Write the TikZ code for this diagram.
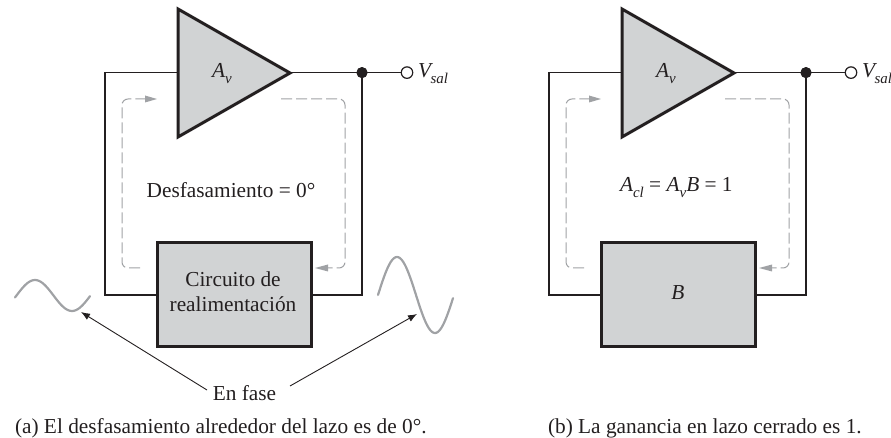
\documentclass[tikz,border=0pt]{standalone}
\usepackage{fontspec}
\setmainfont{Liberation Serif}
\usetikzlibrary{arrows.meta}
\definecolor{ink}{HTML}{231F20}
\definecolor{fillgray}{HTML}{D1D3D4}
\definecolor{dashgray}{HTML}{A0A2A5}
\newcommand\lowsub[1]{\raisebox{-0.28em}{\fontsize{15}{16}\selectfont\itshape #1}}
\tikzset{
  x=1bp,y=-1bp,
  wire/.style={draw=ink,line width=1.3bp},
  block/.style={draw=ink,fill=fillgray,line width=3bp,line join=miter},
  loopdash/.style={draw=dashgray,line width=1bp,dash pattern=on 11bp off 4bp,rounded corners=6bp},
  looptip/.style={draw=none,fill=dashgray},
  solder/.style={circle,fill=ink,draw=none,inner sep=0pt,minimum size=11bp},
  terminal/.style={circle,fill=white,draw=ink,line width=1.2bp,inner sep=0pt,minimum size=11.5bp},
  label/.style={inner sep=0pt,outer sep=0pt,text=ink,font=\fontsize{21.4}{23}\selectfont,anchor=base},
  wave/.style={draw=dashgray,line width=2.2bp,line cap=round,smooth},
  pointer/.style={draw=ink,line width=0.9bp,-{Latex[length=9bp,width=7bp]}},
}
\begin{document}
\begin{tikzpicture}
\useasboundingbox (0,0) rectangle (891,438);
\clip (0,0) rectangle (891,438);
\foreach \dx/\pn in {0/a,444/b}{
\begin{scope}[xshift=\dx bp]
  \coordinate (\pn ampin) at (178,72.6);
  \coordinate (\pn ampout) at (290,72.6);
  \coordinate (\pn cl) at (105,72.6);
  \coordinate (\pn bl) at (105,295);
  \coordinate (\pn br) at (362,295);
  \node[solder] (\pn dot) at (362,72.6) {};
  \node[terminal] (\pn term) at (407,72.6) {};
  \node[draw=none,inner sep=0pt,minimum width=153bp,minimum height=103bp,anchor=center] (\pn box) at (234.5,294.5) {};
  \draw[wire] (\pn ampin) -- (\pn cl) -- (\pn bl) -- (\pn box.west |- \pn bl);
  \draw[wire] (\pn ampout) -- (\pn dot.center) -- (\pn term);
  \draw[wire] (\pn dot.center) -- (\pn br) -- (\pn box.east |- \pn br);
  \draw[block] (178,9) -- (178,137) -- (290,73) -- cycle;
  \draw[block] (\pn box.south west) rectangle (\pn box.north east);
  \node[solder] at (\pn dot) {};
  \draw[loopdash] (140,268) -- (122,268) -- (122,99) -- (146,99);
  \fill[looptip] (157,99) -- (145,95.5) -- (145,102.5) -- cycle;
  \draw[loopdash] (281,99) -- (345,99) -- (345,268) -- (326,268);
  \fill[looptip] (315,268) -- (328,264.5) -- (328,271.5) -- cycle;
  \node[label,anchor=base west] (\pn av) at (212,78) {\textit{A}\lowsub{v}};
  \node[label,anchor=base west] (\pn vs) at (418,78) {\textit{V}\kern-2.5pt\lowsub{sal}};
\end{scope}}
\node[label] (shift) at (231,198) {Desfasamiento = 0°};
\node[label] (circ1) at (233,287) {Circuito de};
\node[label] (circ2) at (233,312) {realimentación};
\node[label] (fase) at (244.5,400) {En fase};
\node[label,anchor=base west] (capa) at (15,433) {(a) El desfasamiento alrededor del lazo es de 0°.};
\node[label,anchor=base west] (capb) at (548,433) {(b) La ganancia en lazo cerrado es 1.};
\node[label,anchor=base west] (acl) at (620,192) {\textit{A}\lowsub{cl} = \textit{A}\lowsub{v}\textit{B} = 1};
\node[label] (bb) at (678,299.5) {\textit{B}};
\draw[wave] plot[domain=15:90,samples=50] (\x,{295.5-15.5*cos((\x-35)*180/37)});
\draw[wave] plot[domain=378:453,samples=60] (\x,{295-38*cos((\x-397)*180/38)});
\coordinate (wl) at (81,312);
\coordinate (wr) at (417,314);
\coordinate (fl) at (207,390);
\coordinate (fr) at (290,386);
\draw[pointer] (fl) -- (wl);
\draw[pointer] (fr) -- (wr);
\end{tikzpicture}
\end{document}
